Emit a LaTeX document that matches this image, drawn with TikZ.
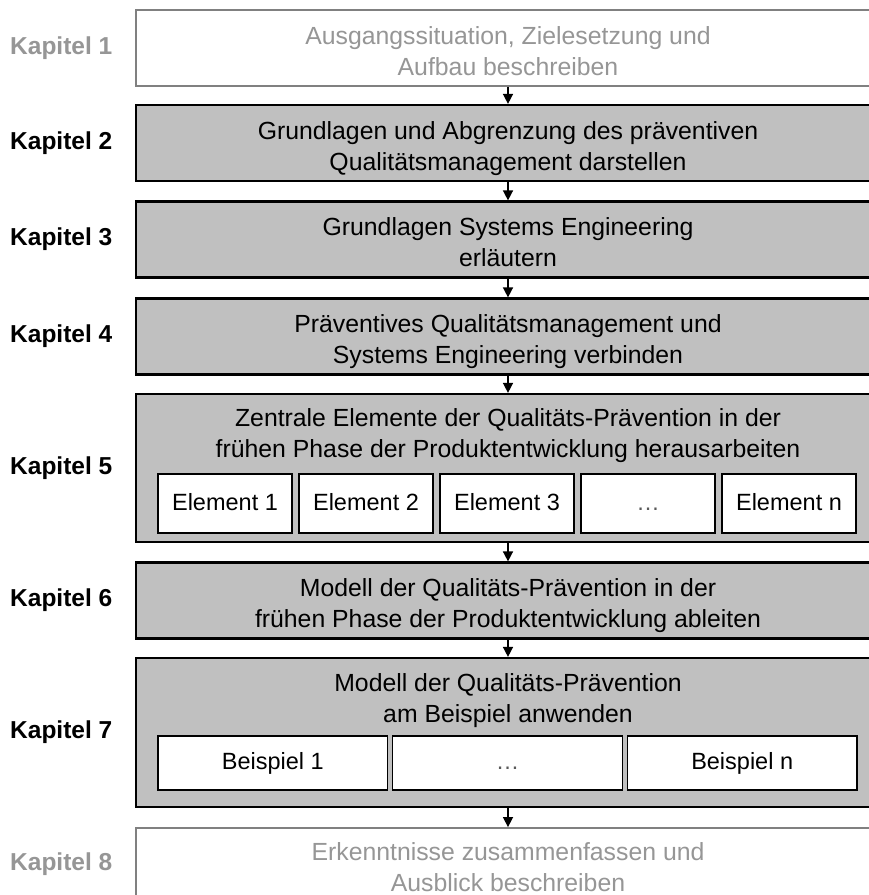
\documentclass[tikz,border=0pt]{standalone}
\usepackage{fontspec}
\setmainfont{Liberation Sans}
\usetikzlibrary{arrows.meta,calc}
\definecolor{boxgray}{RGB}{192,192,192}
\definecolor{fadetext}{RGB}{150,150,150}
\definecolor{fadeline}{RGB}{128,128,128}
\newcommand{\bodyfs}{\fontsize{24.8}{31}\selectfont}
\begin{document}
\begin{tikzpicture}[x=1pt,y=1pt,
  chapbox/.style={rectangle, draw=black, line width=2.2pt, fill=boxgray,
    minimum width=744pt, minimum height=76pt, inner sep=0pt, align=center, font=\bodyfs,
    text height=54pt, text depth=0pt},
  fadedbox/.style={chapbox, draw=fadeline, line width=1.8pt, fill=white, text=fadetext},
  titletext/.style={align=center, font=\bodyfs, inner sep=0pt},
  elem/.style={rectangle, draw=black, fill=white, line width=1.6pt, inner sep=0pt,
    minimum width=134pt, minimum height=59pt, text height=17pt, text depth=4pt,
    font=\fontsize{23.5}{28}\selectfont},
  beisp/.style={elem, minimum width=229.7pt, minimum height=54pt},
  chaplabel/.style={anchor=west, inner sep=0pt, font=\bfseries\fontsize{24.5}{28}\selectfont},
  flowarrow/.style={line width=1.5pt, -{Triangle[width=10pt,length=10pt]}}
]
\useasboundingbox (0,0) rectangle (869,-895);
\clip (0,0) rectangle (869,-895);
\fill[white] (0,0) rectangle (869,-895);

% boxes
\node[fadedbox] (b1) at (508,-48) {Ausgangssituation, Zielesetzung und\\Aufbau beschreiben};
\node[chapbox] (b2) at (508,-143) {Grundlagen und Abgrenzung des präventiven\\Qualitätsmanagement darstellen};
\node[chapbox] (b3) at (508,-239.5) {Grundlagen Systems Engineering\\erläutern};
\node[chapbox] (b4) at (508,-336.5) {Präventives Qualitätsmanagement und\\Systems Engineering verbinden};
\node[chapbox, minimum height=148pt] (b5) at (508,-468) {};
\node[titletext] (t5) at (508,-436) {Zentrale Elemente der Qualitäts-Prävention in der\\frühen Phase der Produktentwicklung herausarbeiten};
\node[chapbox] (b6) at (508,-600.5) {Modell der Qualitäts-Prävention in der\\frühen Phase der Produktentwicklung ableiten};
\node[chapbox, minimum height=149pt] (b7) at (508,-732.5) {};
\node[titletext] (t7) at (508,-701) {Modell der Qualitäts-Prävention\\am Beispiel anwenden};
\node[fadedbox, text height=50pt] (b8) at (508,-866) {Erkenntnisse zusammenfassen und\\Ausblick beschreiben};

% elements
\node[elem] (e1) at (225,-503.5) {Element 1};
\node[elem] (e2) at (366,-503.5) {Element 2};
\node[elem] (e3) at (507,-503.5) {Element 3};
\node[elem] (e4) at (648,-503.5) {\textcolor{black!65}{…}};
\node[elem] (e5) at (789,-503.5) {Element n};

% examples
\node[beisp] (p1) at (272.8,-763) {Beispiel 1};
\node[beisp] (p2) at (507.5,-763) {\textcolor{black!65}{…}};
\node[beisp] (p3) at (742.2,-763) {Beispiel n};

% labels
\node[chaplabel, text=fadetext] (k1) at (10,-48) {Kapitel 1};
\node[chaplabel] (k2) at (10,-143) {Kapitel 2};
\node[chaplabel] (k3) at (10,-239.5) {Kapitel 3};
\node[chaplabel] (k4) at (10,-336.5) {Kapitel 4};
\node[chaplabel] (k5) at (10,-468) {Kapitel 5};
\node[chaplabel] (k6) at (10,-600.5) {Kapitel 6};
\node[chaplabel] (k7) at (10,-732.5) {Kapitel 7};
\node[chaplabel, text=fadetext] (k8) at (10,-864) {Kapitel 8};

% arrows
\coordinate (ax) at (508,0);
\draw[flowarrow] (b1.south -| ax) -- (b2.north -| ax);
\draw[flowarrow] (b2.south -| ax) -- (b3.north -| ax);
\draw[flowarrow] (b3.south -| ax) -- (b4.north -| ax);
\draw[flowarrow] (b4.south -| ax) -- (b5.north -| ax);
\draw[flowarrow] (b5.south -| ax) -- (b6.north -| ax);
\draw[flowarrow] (b6.south -| ax) -- (b7.north -| ax);
\draw[flowarrow] (b7.south -| ax) -- (b8.north -| ax);
\end{tikzpicture}
\end{document}
